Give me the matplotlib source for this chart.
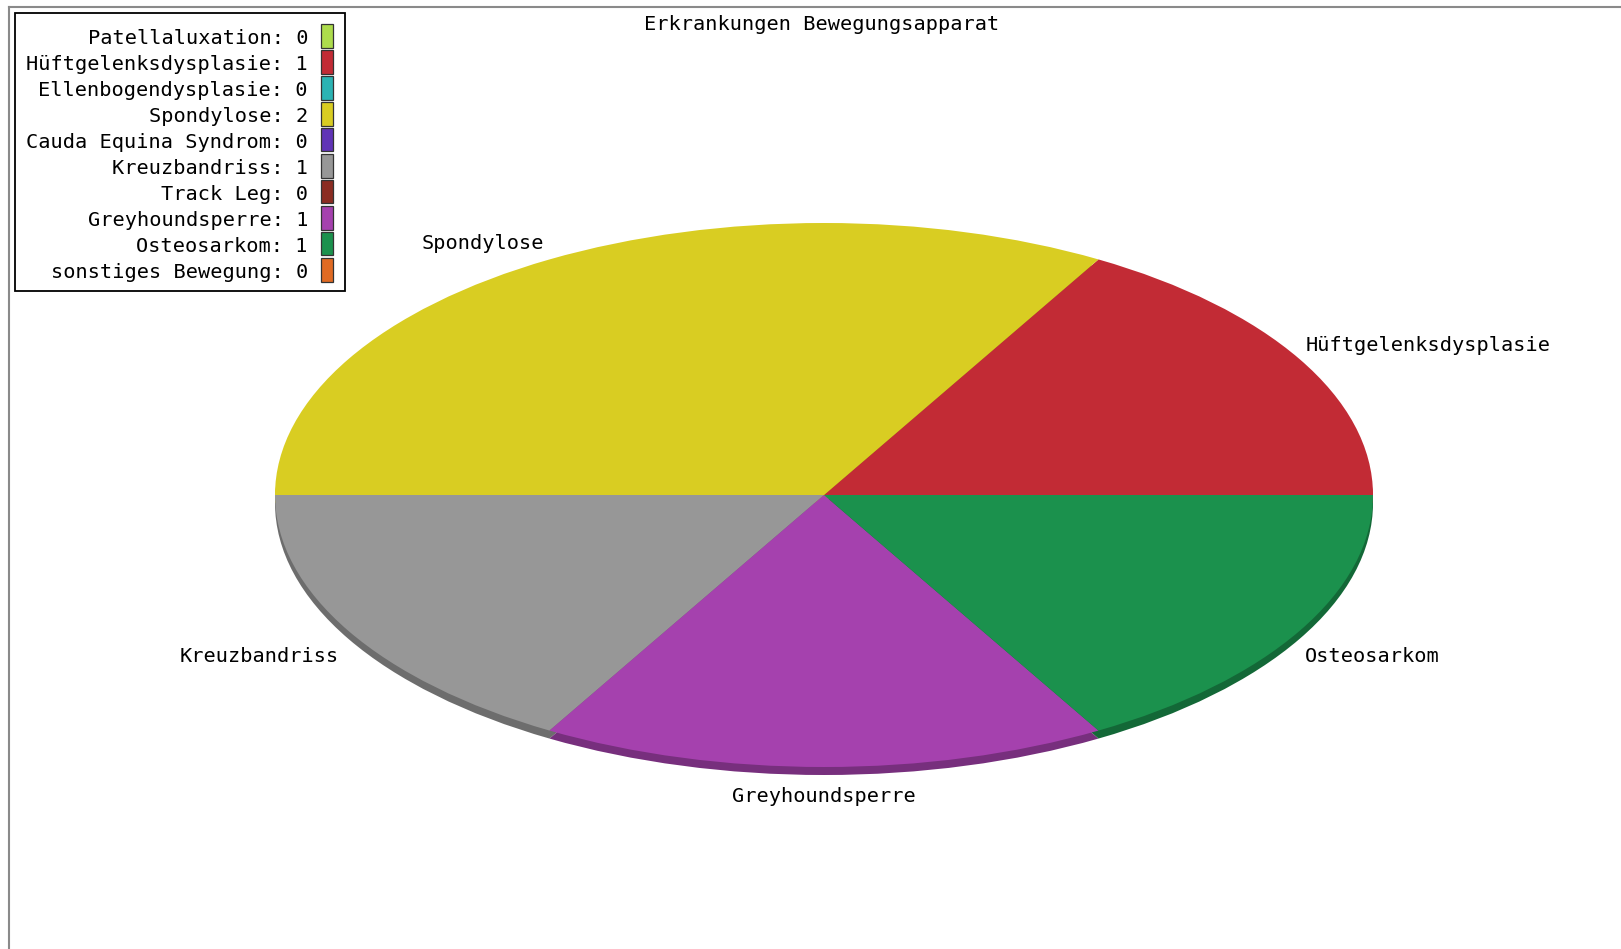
import numpy as np
import matplotlib.pyplot as plt
from matplotlib.patches import Rectangle
from matplotlib.lines import Line2D
from matplotlib.colors import to_rgb

W, H = 1621, 949

title = "Erkrankungen Bewegungsapparat"
categories = ["Patellaluxation", "Hüftgelenksdysplasie", "Ellenbogendysplasie",
              "Spondylose", "Cauda Equina Syndrom", "Kreuzbandriss", "Track Leg",
              "Greyhoundsperre", "Osteosarkom", "sonstiges Bewegung"]
counts = [0, 1, 0, 2, 0, 1, 0, 1, 1, 0]
colors = ["#addc4c", "#c22b35", "#2bb3b3", "#d9cd22", "#6034b6",
          "#979797", "#8b2c22", "#a541ae", "#1b914d", "#e06a23"]

font = "DejaVu Sans Mono"
fs = 14.6


def px(x, y):
    # pixel position (from top-left) -> figure fraction
    return x / W, 1 - y / H


def shade(c, f=0.72):
    r, g, b = to_rgb(c)
    return (r * f, g * f, b * f)


fig = plt.figure(figsize=(W / 100, H / 100), dpi=100)
ax = fig.add_axes([0, 0, 1, 1])

# pie geometry in pixels
cx, cy, rx, ry = 824, 495, 549, 272
dpx = 8
depth = dpx / ry

vals = [v for v in counts if v > 0]
cols = [c for c, v in zip(colors, counts) if v > 0]
names = [n for n, v in zip(categories, counts) if v > 0]

# 3d edge: darker copy shifted down
ax.pie(vals, colors=[shade(c) for c in cols], startangle=0, counterclock=True,
       center=(0, -depth), wedgeprops=dict(linewidth=0))
wedges, _ = ax.pie(vals, colors=cols, startangle=0, counterclock=True,
                   wedgeprops=dict(linewidth=0))

for w, name in zip(wedges, names):
    mid = np.deg2rad((w.theta1 + w.theta2) / 2)
    c, s = np.cos(mid), np.sin(mid)
    ha = "left" if c > 0.1 else ("right" if c < -0.1 else "center")
    off = 12 + 7 * abs(s) + (dpx if s < 0 else 0)
    ypx = s * ry + np.sign(s) * off - 2
    xf = 1.012 if c > 0 else 1.02
    ax.text(xf * c, ypx / ry, name, ha=ha, va="center",
            fontsize=fs, family=font, color="black")

ax.set_aspect("auto")
ax.set_xlim(-cx / rx, (W - cx) / rx)
ax.set_ylim(-(H - cy) / ry, cy / ry)
ax.axis("off")

# title
fig.text(*px(822, 25), title, ha="center", va="center", fontsize=fs,
         family=font, color="black")

# frame lines (top and left)
fig.add_artist(Line2D([9 / W, 1], [1 - 6.5 / H] * 2, color="#8a8a8a", lw=1.5))
fig.add_artist(Line2D([9 / W, 9 / W], [0, 1 - 6.5 / H], color="#8a8a8a", lw=1.5))

# legend
x0, y0 = px(15, 291)
fig.add_artist(Rectangle((x0, y0), 330 / W, 278 / H, transform=fig.transFigure,
                         fill=True, fc="white", ec="black", lw=1.3))
for i, (name, n, col) in enumerate(zip(categories, counts, colors)):
    yc = 36 + 26 * i
    fig.text(*px(308, yc + 2), f"{name}: {n}", ha="right", va="center",
             fontsize=fs, family=font, color="black")
    bx, by = px(321, yc + 11.5)
    fig.add_artist(Rectangle((bx, by), 12 / W, 23 / H, transform=fig.transFigure,
                             fc=col, ec="#333333", lw=0.9))

fig.savefig("out.png", dpi=100)
